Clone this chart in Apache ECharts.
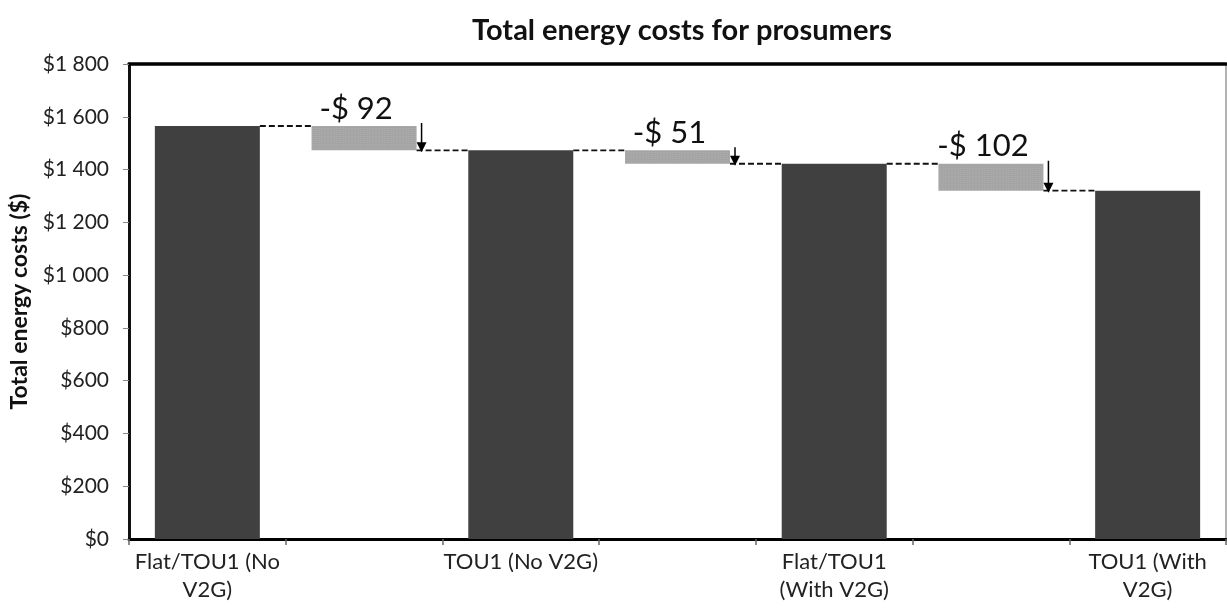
<!DOCTYPE html>
<html>
<head>
<meta charset="utf-8">
<script src="https://cdn.jsdelivr.net/npm/echarts@6/dist/echarts.min.js"></script>
<style>
html,body{margin:0;padding:0;background:#fff;}
#chart{width:1227px;height:614px;}
</style>
</head>
<body>
<div id="chart"></div>
<script>
// ---- data ----
var categories = ['Flat/TOU1 (No\nV2G)', '', 'TOU1 (No V2G)', '', 'Flat/TOU1\n(With V2G)', '', 'TOU1 (With\nV2G)'];
var totals = [1565, 1473, 1422, 1320];      // scenario totals (bars at categories 0,2,4,6)
var changes = [-92, -51, -102];              // step changes (boxes at categories 1,3,5)
var yTicks = [0, 200, 400, 600, 800, 1000, 1200, 1400, 1600, 1800];

// ---- derived series ----
var baseData = [], changeData = [], totalData = [], stepData = [];
for (var i = 0; i < categories.length; i++) {
  if (i % 2 === 0) {
    totalData.push(totals[i / 2]); baseData.push('-'); changeData.push('-');
  } else {
    var k = (i - 1) / 2;
    var prev = totals[k], next = totals[k + 1];
    totalData.push('-'); baseData.push(next); changeData.push(prev - next);
    stepData.push([i, prev, next, changes[k]]);
  }
}

function fmtMoney(v) {
  var s = String(v);
  if (v >= 1000) s = s.slice(0, s.length - 3) + ' ' + s.slice(s.length - 3);
  return '$' + s;
}

var FONT = 'Lato';
var chart = echarts.init(document.getElementById('chart'));
chart.setOption({
  animation: false,
  title: {
    text: 'Total energy costs for prosumers',
    left: 677, top: 11, textAlign: 'center',
    textStyle: { fontFamily: FONT, fontWeight: 'bold', fontSize: 29, color: '#111' }
  },
  grid: { left: 129, right: 1, top: 64, bottom: 75, containLabel: false },
  xAxis: [{
    type: 'category', data: categories, boundaryGap: true,
    axisLine: { lineStyle: { color: '#000', width: 3 } },
    axisTick: { show: true, alignWithLabel: false, interval: 0, length: 6, lineStyle: { color: '#666', width: 1.5 } },
    axisLabel: { interval: 0, fontFamily: FONT, fontSize: 22, color: '#222', lineHeight: 28, margin: 9 }
  }, {
    type: 'category', data: categories, position: 'top',
    axisLine: { show: true, onZero: false, lineStyle: { color: '#000', width: 3.5 } },
    axisTick: { show: false }, axisLabel: { show: false }
  }],
  yAxis: [{
    type: 'value', min: 0, max: 1800, interval: 200,
    name: 'Total energy costs ($)', nameLocation: 'middle', nameGap: 98, nameRotate: 90,
    nameTextStyle: { fontFamily: FONT, fontWeight: 'bold', fontSize: 23, color: '#111' },
    axisLine: { show: true, lineStyle: { color: '#111', width: 3 } },
    axisTick: { show: true, length: 6, lineStyle: { color: '#888' } },
    axisLabel: {
      fontFamily: FONT, fontSize: 21, color: '#222', margin: 20,
      formatter: function (v) { return yTicks.indexOf(v) >= 0 ? fmtMoney(v) : ''; }
    },
    splitLine: { show: false }
  }, {
    type: 'value', min: 0, max: 1800, position: 'right',
    axisLine: { show: true, onZero: false, lineStyle: { color: '#999', width: 1.5 } },
    axisTick: { show: false }, axisLabel: { show: false }, splitLine: { show: false }
  }],
  series: [{
    type: 'bar', stack: 'w', data: baseData, barWidth: '67%',
    itemStyle: { color: 'rgba(0,0,0,0)' }, silent: true
  }, {
    type: 'bar', stack: 'w', data: changeData, barWidth: '67%',
    itemStyle: {
      color: '#a4a4a4',
      decal: { symbol: 'rect', symbolSize: 0.6, dashArrayX: [2, 1], dashArrayY: [1, 1], color: 'rgba(255,255,255,0.25)' }
    },
    label: {
      show: true, position: 'top', distance: 2, offset: [-8, 0],
      fontFamily: FONT, fontSize: 31, color: '#111',
      formatter: function (p) { var k = (p.dataIndex - 1) / 2; return '-$ ' + Math.abs(changes[k]); }
    }
  }, {
    type: 'bar', stack: 'w', data: totalData, barWidth: '67%',
    itemStyle: { color: '#404040' }
  }, {
    type: 'custom', data: stepData, z: 5,
    renderItem: function (params, api) {
      var x = api.value(0), prev = api.value(1), next = api.value(2);
      var half = api.size([1, 0])[0] * 0.67 / 2;
      var pPrev = api.coord([x, prev]), pNext = api.coord([x, next]);
      var leftPrev = api.coord([x - 1, prev]), rightNext = api.coord([x + 1, next]);
      var dash = { stroke: '#111', lineWidth: 1.8, lineDash: [6, 3] };
      var ax = pPrev[0] + half + 5;
      var tip = pNext[1] + 2;
      return {
        type: 'group',
        children: [
          { type: 'line', shape: { x1: leftPrev[0] + half, y1: pPrev[1], x2: pPrev[0] - half, y2: pPrev[1] }, style: dash },
          { type: 'line', shape: { x1: pNext[0] + half, y1: pNext[1], x2: rightNext[0] - half, y2: pNext[1] }, style: dash },
          { type: 'line', shape: { x1: ax, y1: pPrev[1] - 3, x2: ax, y2: tip - 8 }, style: { stroke: '#000', lineWidth: 1.5 } },
          { type: 'polygon', shape: { points: [[ax - 5, tip - 10], [ax + 5, tip - 10], [ax, tip]] }, style: { fill: '#000' } }
        ]
      };
    }
  }]
});
</script>
</body>
</html>
